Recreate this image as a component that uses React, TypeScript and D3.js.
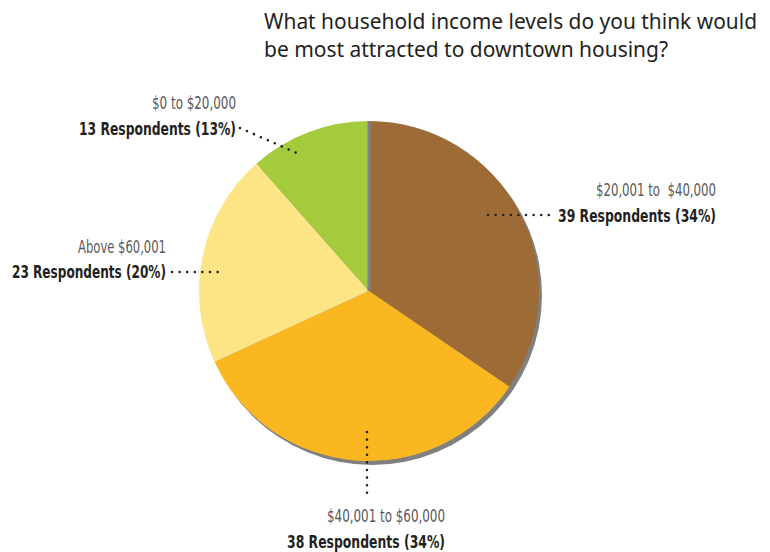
import React from "react";
import * as d3 from "d3";

const categories = ["$20,001 to  $40,000", "$40,001 to $60,000", "Above $60,001", "$0 to $20,000"];
const counts = [39, 38, 23, 13];
const percents = ["34%", "34%", "20%", "13%"];
const colors = ["#9C6B36", "#FBB71F", "#FDE585", "#A3CB3B"];
const titleLines = ["What household income levels do you think would", "be most attracted to downtown housing?"];

const W = 770;
const H = 552;
const cx = 369;
const cy = 291;
const R = 170;

// label layout
const layout = [
  { x: 716, y1: 196, y2: 222, lw: 120, bw: 158, line: [488, 215, 556, 215] },
  { x: 445, y1: 522, y2: 548, lw: 118, bw: 158, line: [367, 432, 367, 499] },
  { x: 166, y1: 253, y2: 278, lw: 88, bw: 154, line: [172, 272, 221, 272] },
  { x: 236, y1: 109, y2: 135, lw: 84, bw: 157, line: [240, 128, 299, 154] },
];

export default function App() {
  const pie = d3.pie<number>().sort(null).value((d) => d)(counts);
  const arc = d3.arc<d3.PieArcDatum<number>>().innerRadius(0).outerRadius(R);
  const lightFont = "'Liberation Sans Narrow', 'DejaVu Sans Condensed', 'Arial Narrow', sans-serif";
  return (
    <svg width={W} height={H} style={{ position: "absolute", left: 0, top: 0, background: "#fff" }}>
      <g>
        {titleLines.map((t, i) => (
          <text
            key={i}
            x={264}
            y={29 + i * 28}
            fontFamily="'Noto Sans', 'Open Sans', sans-serif"
            fontSize={21.5}
            fill="#231F20"
            textLength={i === 0 ? 493 : 404}
            lengthAdjust="spacingAndGlyphs"
          >
            {t}
          </text>
        ))}
      </g>
      <circle cx={cx + 3} cy={cy + 4} r={R} fill="#808080" />
      <g transform={`translate(${cx},${cy})`}>
        {pie.map((p, i) => (
          <path key={i} d={arc(p) || ""} fill={colors[i]} />
        ))}
        <line x1={0} y1={0} x2={0} y2={-R} stroke="#808080" strokeWidth={3} />
      </g>
      {layout.map((l, i) => (
        <g key={i}>
          <line
            x1={l.line[0]}
            y1={l.line[1]}
            x2={l.line[2]}
            y2={l.line[3]}
            stroke="#231F20"
            strokeWidth={2.6}
            strokeLinecap="round"
            strokeDasharray="0 7.6"
          />
          <text
            x={l.x}
            y={l.y1}
            textAnchor="end"
            fontFamily={lightFont}
            fontSize={18}
            fill="#58595B"
            textLength={l.lw}
            lengthAdjust="spacingAndGlyphs"
            style={{ whiteSpace: "pre" }}
          >
            {categories[i]}
          </text>
          <text
            x={l.x}
            y={l.y2}
            textAnchor="end"
            fontFamily={lightFont}
            fontWeight="bold"
            fontSize={18.5}
            fill="#231F20"
            textLength={l.bw}
            lengthAdjust="spacingAndGlyphs"
          >
            {`${counts[i]} Respondents (${percents[i]})`}
          </text>
        </g>
      ))}
    </svg>
  );
}
